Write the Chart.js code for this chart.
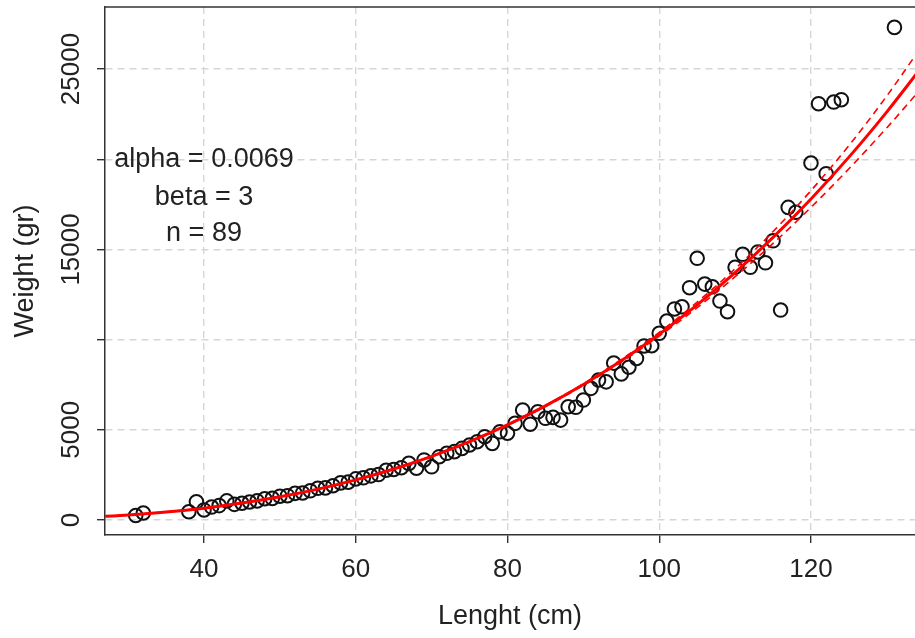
<!DOCTYPE html>
<html>
<head>
<meta charset="utf-8">
<title>Length-weight relationship</title>
<script src="https://cdn.jsdelivr.net/npm/chart.js@4.4.1/dist/chart.umd.min.js"></script>
<style>
  html, body { margin: 0; padding: 0; background: #ffffff; overflow: hidden; }
  #wrap { width: 915px; height: 638px; }
</style>
</head>
<body>
<div id="wrap"><canvas id="chart" width="915" height="638"></canvas></div>
<script>
// observed fish (one per length class)
const lengths = [
  31, 32, 38, 39, 40, 41, 42, 43, 44, 45, 46, 47, 48, 49, 50, 51, 52, 53, 54, 55,
  56, 57, 58, 59, 60, 61, 62, 63, 64, 65, 66, 67, 68, 69, 70, 71, 72, 73, 74, 75,
  76, 77, 78, 79, 80, 81, 82, 83, 84, 85, 86, 87, 88, 89, 90, 91, 92, 93, 94, 95,
  96, 97, 98, 99, 100, 101, 102, 103, 104, 105, 106, 107, 108, 109, 110, 111, 112, 113, 114, 115,
  116, 117, 118, 120, 121, 122, 123, 124, 131
];
const weights = [
  250, 390, 460, 1010, 560, 720, 800, 1060, 870, 930, 1000, 1060, 1180, 1200, 1320, 1350, 1480, 1500, 1620, 1760,
  1780, 1900, 2060, 2100, 2280, 2340, 2450, 2520, 2760, 2800, 2900, 3140, 2870, 3330, 2950, 3510, 3700, 3790, 3970, 4160,
  4340, 4620, 4250, 4890, 4810, 5360, 6100, 5310, 6000, 5640, 5690, 5540, 6280, 6250, 6650, 7300, 7760, 7660, 8700, 8100,
  8470, 8960, 9650, 9660, 10350, 11030, 11700, 11820, 12880, 14510, 13080, 12930, 12140, 11550, 14010, 14730, 14010, 14860, 14260, 15480,
  11640, 17330, 17060, 19790, 23080, 19200, 23170, 23300, 27310
];

// fitted curve and its confidence band
const curveLength = [27, 30, 35, 40, 45, 50, 55, 60, 65, 70, 75, 80, 85, 90, 95, 100, 105, 110, 115, 120, 125, 130, 134];
const curveWeight = [203, 278, 442, 659, 939, 1288, 1714, 2225, 2829, 3533, 4345, 5274, 6325, 7509, 8831, 10300, 11924, 13709, 15665, 17798, 20117, 22629, 24783];
const upperWeight = [208, 285, 451, 670, 951, 1301, 1728, 2238, 2843, 3547, 4362, 5295, 6357, 7554, 8902, 10403, 12079, 13928, 15994, 18261, 20761, 23512, 25898];
const lowerWeight = [198, 271, 433, 648, 927, 1275, 1700, 2212, 2815, 3519, 4328, 5253, 6293, 7464, 8760, 10197, 11769, 13490, 15336, 17335, 19473, 21746, 23668];

const xTicks = [40, 60, 80, 100, 120];
const yTicks = [0, 5000, 10000, 15000, 20000, 25000];
const yLabels = [0, 5000, 15000, 25000];   // R dropped 10000 and 20000

const annotation = ['alpha = 0.0069', 'beta = 3', 'n = 89'];
const annotationX = 40;
const annotationY = [20000, 17900, 15900];

const FONT = '"Liberation Sans", Arial, Helvetica, sans-serif';
Chart.defaults.font.family = FONT;
Chart.defaults.font.size = 26;
Chart.defaults.color = '#222222';

const toXY = (xs, ys) => xs.map((x, i) => ({ x: x, y: ys[i] }));

// top border of the box + rotated y labels + fit annotation
const rStyle = {
  id: 'rStyle',
  afterDraw(chart) {
    const { ctx, chartArea, scales } = chart;
    ctx.save();
    ctx.strokeStyle = '#333333';
    ctx.lineWidth = 1.5;
    ctx.beginPath();
    ctx.moveTo(chartArea.left, chartArea.top);
    ctx.lineTo(chartArea.right, chartArea.top);
    ctx.stroke();

    ctx.fillStyle = '#222222';
    ctx.textAlign = 'center';
    ctx.textBaseline = 'middle';

    ctx.font = '26px ' + FONT;
    yLabels.forEach(v => {
      ctx.save();
      ctx.translate(72, scales.y.getPixelForValue(v));
      ctx.rotate(-Math.PI / 2);
      ctx.fillText(String(v), 0, 0);
      ctx.restore();
    });

    ctx.font = '27px ' + FONT;
    annotation.forEach((t, i) => {
      ctx.fillText(t, scales.x.getPixelForValue(annotationX), scales.y.getPixelForValue(annotationY[i]));
    });
    ctx.restore();
  }
};

new Chart(document.getElementById('chart'), {
  type: 'scatter',
  data: {
    datasets: [
      {
        data: toXY(curveLength, curveWeight),
        showLine: true,
        borderColor: '#ff0000',
        borderWidth: 3,
        pointRadius: 0,
        cubicInterpolationMode: 'monotone'
      },
      {
        data: toXY(curveLength, upperWeight),
        showLine: true,
        borderColor: '#ff0000',
        borderWidth: 1.6,
        borderDash: [7, 5],
        pointRadius: 0,
        cubicInterpolationMode: 'monotone'
      },
      {
        data: toXY(curveLength, lowerWeight),
        showLine: true,
        borderColor: '#ff0000',
        borderWidth: 1.6,
        borderDash: [7, 5],
        pointRadius: 0,
        cubicInterpolationMode: 'monotone'
      },
      {
        data: toXY(lengths, weights),
        showLine: false,
        pointRadius: 6.8,
        pointBorderWidth: 2,
        pointBorderColor: '#111111',
        pointBackgroundColor: 'rgba(0,0,0,0)'
      }
    ]
  },
  options: {
    responsive: false,
    animation: false,
    layout: { autoPadding: false, padding: { top: 7, right: 0, bottom: 0, left: 0 } },
    plugins: {
      legend: { display: false },
      tooltip: { enabled: false }
    },
    scales: {
      x: {
        type: 'linear',
        min: 26.95,
        max: 133.71,
        afterBuildTicks: s => { s.ticks = xTicks.map(v => ({ value: v })); },
        afterFit: s => { s.height = 103; s.paddingLeft = 0; s.paddingRight = 0; },
        ticks: { padding: 11, maxRotation: 0 },
        grid: {
          color: '#d6d6d6',
          lineWidth: 1.4,
          tickColor: '#333333',
          tickLength: 8,
          tickWidth: 1.4,
          tickBorderDash: []
        },
        border: { display: true, color: '#333333', width: 1.5, dash: [7, 5] },
        title: { display: true, text: 'Lenght (cm)', font: { size: 27 }, padding: { top: 0, bottom: 5 } }
      },
      y: {
        type: 'linear',
        min: -830,
        max: 28440,
        afterBuildTicks: s => { s.ticks = yTicks.map(v => ({ value: v })); },
        afterFit: s => { s.width = 105; s.paddingTop = 0; s.paddingBottom = 0; },
        ticks: { display: false },
        grid: {
          color: '#d6d6d6',
          lineWidth: 1.4,
          tickColor: '#333333',
          tickLength: 8,
          tickWidth: 1.4,
          tickBorderDash: []
        },
        border: { display: true, color: '#333333', width: 1.5, dash: [7, 5] },
        title: { display: true, text: 'Weight (gr)', font: { size: 27 }, padding: { top: 9, bottom: 0 } }
      }
    }
  },
  plugins: [rStyle]
});
</script>
</body>
</html>
